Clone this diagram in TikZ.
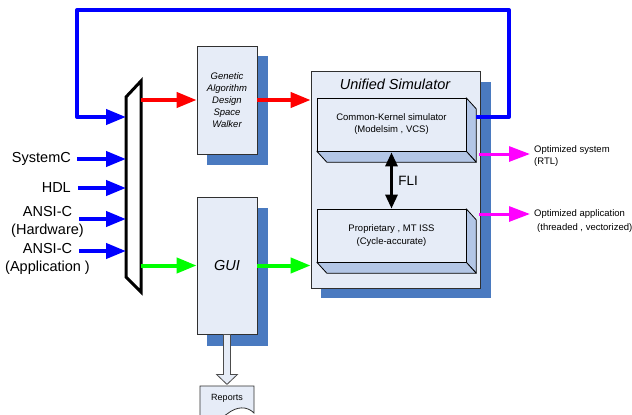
\documentclass[tikz,border=0pt]{standalone}
\usepackage{fontspec}
\setmainfont{Liberation Sans}
\usetikzlibrary{arrows.meta,calc}
\definecolor{boxfill}{HTML}{E6ECF7}
\definecolor{shadowc}{HTML}{4A7AC0}
\definecolor{sidec}{HTML}{B3C6E6}
\definecolor{edgec}{HTML}{303030}
\definecolor{magc}{RGB}{255,0,255}
\definecolor{greenc}{RGB}{0,255,0}
\definecolor{bluec}{RGB}{0,0,255}
\definecolor{redc}{RGB}{255,0,0}
\begin{document}
\begin{tikzpicture}[x=1pt,y=-1pt,
  box/.style={draw=edgec, fill=boxfill, line width=0.8pt, inner sep=0pt},
  big/.style={font=\fontsize{14.5}{18}\selectfont, align=center, inner sep=0pt},
  small/.style={font=\fontsize{9.5}{12}\selectfont, align=center, inner sep=0pt},
  fat/.style={line width=4pt, line join=round, -{Triangle[length=20pt,width=15pt]}},
  bluearr/.style={fat, draw=bluec},
  redarr/.style={fat, draw=redc},
  greenarr/.style={fat, draw=greenc},
  magarr/.style={line width=3pt, draw=magc, -{Triangle[length=21pt,width=15pt]}},
  shadow/.style={fill=shadowc, draw=none},
  sideface/.style={fill=sidec, draw=black, line width=0.8pt, line join=round}]
\useasboundingbox (0,0) rectangle (632,415);
\clip (0,0) rectangle (632,415);
\fill[white] (0,0) rectangle (632,415);

% multiplexer
\coordinate (mTL) at (126,97);
\coordinate (mTR) at (141,81);
\coordinate (mBR) at (141,292);
\coordinate (mBL) at (126,277);
\coordinate (muxL) at (126,0);
\coordinate (muxR) at (141,0);
\draw[line width=3pt, fill=white, line join=miter] (mTL) -- (mTR) -- (mBR) -- (mBL) -- cycle;

% GA box
\coordinate (gapos) at (227,100);
\fill[shadow] (207,56) rectangle (268,165);
\node[box, minimum width=60pt, minimum height=108pt, small, font=\fontsize{9.5}{12}\selectfont\itshape] (ga) at (gapos) {Genetic\\Algorithm\\Design\\Space\\Walker};

% GUI box
\fill[shadow] (207,208) rectangle (268,346);
\node[box, minimum width=60pt, minimum height=137pt, big, font=\fontsize{14.5}{18}\selectfont\itshape] (gui) at (227,265.5) {GUI};

% Unified simulator
\fill[shadow] (321,82) rectangle (491,298);
\node[box, minimum width=169pt, minimum height=217pt] (uni) at (395.5,179.5) {};
\node[big, font=\fontsize{14.5}{18}\selectfont\itshape] (unititle) at (395,84) {Unified Simulator};

% common kernel 3D box
\coordinate (ckpos) at (391.5,124.5);
\path (ckpos) node[minimum width=149pt, minimum height=53pt, inner sep=0pt] (ckg) {};
\filldraw[sideface] (ckg.north east) -- ($(ckg.north east)+(10,11)$) -- ($(ckg.south east)+(10,11)$) -- (ckg.south east) -- cycle;
\filldraw[sideface] (ckg.south west) -- ($(ckg.south west)+(10,11)$) -- ($(ckg.south east)+(10,11)$) -- (ckg.south east) -- cycle;
\node[box, draw=black, minimum width=149pt, minimum height=53pt, small] (ck) at (ckpos) {Common-Kernel simulator\\(Modelsim , VCS)};

% proprietary 3D box
\coordinate (prpos) at (391.5,235.5);
\path (prpos) node[minimum width=149pt, minimum height=53pt, inner sep=0pt] (prg) {};
\filldraw[sideface] (prg.north east) -- ($(prg.north east)+(10,11)$) -- ($(prg.south east)+(10,11)$) -- (prg.south east) -- cycle;
\filldraw[sideface] (prg.south west) -- ($(prg.south west)+(10,11)$) -- ($(prg.south east)+(10,11)$) -- (prg.south east) -- cycle;
\node[box, draw=black, minimum width=149pt, minimum height=53pt, font=\fontsize{9.5}{13}\selectfont, align=center] (prop) at (prpos) {Proprietary , MT ISS\\(Cycle-accurate)};

% FLI
\draw[line width=3pt, {Triangle[length=14pt,width=12pt]}-{Triangle[length=14pt,width=12pt]}] ($(ck.south)+(0,1)$) -- (prop.north);
\node[big, font=\fontsize{13.5}{16}\selectfont] (fli) at (408,181) {FLI};

% input labels
\node[big, anchor=east] (sysc) at (71,159) {SystemC};
\node[big, anchor=east] (hdl) at (71,188) {HDL};
\node[big] (ansih) at (47.5,222) {ANSI-C\\(Hardware)};
\node[big] (ansia) at (47.5,259) {ANSI-C\\(Application )};
\coordinate (in1) at (77,159);
\coordinate (in2) at (78,188);
\coordinate (in3) at (79,219);
\coordinate (in4) at (79,251);
\draw[bluearr] (in1) -- (in1 -| muxL);
\draw[bluearr] (in2) -- (in2 -| muxL);
\draw[bluearr] (in3) -- (in3 -| muxL);
\draw[bluearr] (in4) -- (in4 -| muxL);

% feedback loop
\coordinate (ckside) at (476,117);
\coordinate (loopR) at (509,10);
\coordinate (loopL) at (77,117);
\coordinate (mux1) at (126,117);
\draw[bluearr] (ckside) -| (loopR) -| (loopL) -- (mux1);

% red arrows
\draw[redarr] (muxR |- ga.west) -- (ga.west);
\draw[redarr] (ga.east) -- (ga.east -| uni.west);

% green arrows
\draw[greenarr] (muxR |- gui.west) -- (gui.west);
\draw[greenarr] (gui.east) -- (gui.east -| uni.west);

% outputs
\coordinate (o1s) at (479,154);
\coordinate (o1t) at (530,154);
\coordinate (o2s) at (479,214);
\coordinate (o2t) at (530,214);
\draw[magarr] (o1s) -- (o1t);
\draw[magarr] (o2s) -- (o2t);
\node[small, align=left, anchor=west] (out1) at (534,156) {Optimized system\\(RTL)};
\node[small, align=left, anchor=west, font=\fontsize{9.5}{13.5}\selectfont] (out2) at (534,221) {Optimized application\\\hspace*{3pt}(threaded , vectorized)};

% block arrow down to reports
\filldraw[fill=boxfill, draw=gray!60!black, line width=0.8pt, line join=miter]
  ($(gui.south)+(-3.5,0)$) -- ($(gui.south)+(-3.5,40)$) -- ($(gui.south)+(-10.5,40)$) -- ($(gui.south)+(0,50)$)
  -- ($(gui.south)+(10.5,40)$) -- ($(gui.south)+(3.5,40)$) -- ($(gui.south)+(3.5,0)$) -- cycle;

% reports document
\filldraw[fill=boxfill, draw=edgec, line width=0.8pt] (200,386) -- (254,386) -- (254,413)
  .. controls (247,406) and (237,406) .. (227,414) .. controls (217,422) and (207,422) .. (200,417) -- cycle;
\node[small, font=\fontsize{9}{11}\selectfont] (rep) at (227,398) {Reports};
\end{tikzpicture}
\end{document}
